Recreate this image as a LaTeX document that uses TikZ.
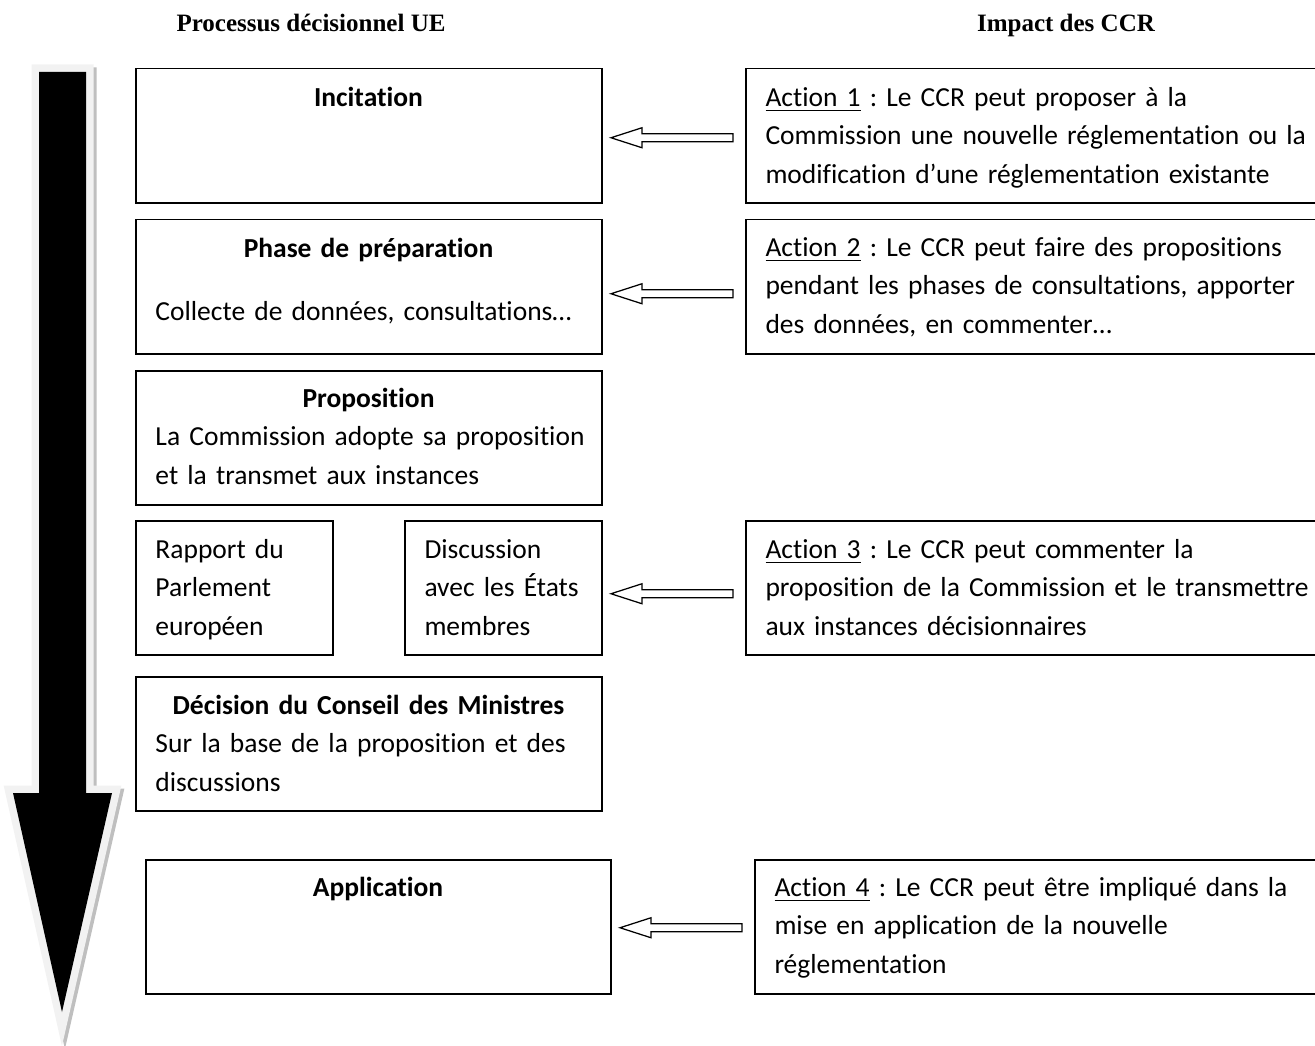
\documentclass[tikz,border=0pt]{standalone}
\usepackage{fontspec}
\setmainfont{Carlito}[Ligatures=NoCommon]
\newfontfamily\headfont{Liberation Serif}
\usetikzlibrary{calc}

\begin{document}
\begin{tikzpicture}[x=0.4pt,y=-0.4pt,
    stage/.style={draw, line width=0.6pt, anchor=north west, inner sep=0pt, minimum height=53.6pt},
    txt/.style={anchor=north west, inner sep=0pt, align=left, font=\fontsize{11}{15.4}\selectfont\frenchspacing, execute at begin node=\strut},
    hollow/.style={draw, line width=0.5pt, fill=white, line join=miter},
    heading/.style={anchor=base, inner sep=0pt, font=\headfont\fontsize{10}{12}\selectfont\bfseries}]
        \clip (0,0) rectangle (1315,1046);

        % Column headings
        \node[heading] (hleft) at (311,32) {Processus décisionnel UE};
        \node[heading] (hright) at (1066,32) {Impact des CCR};

        % Big time arrow (shadow, light rim, black body)
        \draw[gray!50, fill=gray!50, line width=6pt, shift={(3,3)}]
            (39,72) -- (86,72) -- (86,793) -- (112,793) -- (62,1012) -- (13,793) -- (39,793) -- cycle;
        \draw[gray!10, line width=6pt]
            (39,72) -- (86,72) -- (86,793) -- (112,793) -- (62,1012) -- (13,793) -- (39,793) -- cycle;
        \fill[black]
            (39,72) -- (86,72) -- (86,793) -- (112,793) -- (62,1012) -- (13,793) -- (39,793) -- cycle;

        % Decision process (left column)
        \node[stage, minimum width=186.4pt] (inc) at (135,68) {};
        \node[txt, text width=170.4pt] (inc-t) at ($(inc.north west)+(20,11)$)
            {{\centering\bfseries Incitation\par}};

        \node[stage, minimum width=186.4pt] (prep) at (135,219) {};
        \node[txt, text width=170.4pt] (prep-t) at ($(prep.north west)+(20,11)$)
            {{\centering\bfseries Phase de préparation\par}\vspace{9.8pt}
             Collecte de données, consultations…};

        \node[stage, minimum width=186.4pt] (prop) at (135,370) {};
        \node[txt, text width=170.4pt] (prop-t) at ($(prop.north west)+(20,10)$)
            {{\centering\bfseries Proposition\par}
             \makebox[0pt][l]{La Commission adopte sa proposition}\\
             et la transmet aux instances};

        \node[stage, minimum width=78.8pt] (rap) at (135,520) {};
        \node[txt, text width=70pt] (rap-t) at ($(rap.north west)+(20,11)$)
            {Rapport du\\ Parlement\\ européen};

        \node[stage, minimum width=78.8pt] (disc) at (404,520) {};
        \node[txt, text width=70pt] (disc-t) at ($(disc.north west)+(20,11)$)
            {Discussion\\ avec les États\\ membres};

        \node[stage, minimum width=186.4pt] (dec) at (135,676) {};
        \node[txt, text width=170.4pt] (dec-t) at ($(dec.north west)+(20,11)$)
            {{\centering\bfseries Décision du Conseil des Ministres\par}
             Sur la base de la proposition et des\\
             discussions};

        \node[stage, minimum width=186pt] (appl) at (145,859) {};
        \node[txt, text width=170pt] (appl-t) at ($(appl.north west)+(20,10)$)
            {{\centering\bfseries Application\par}};

        % Impact of the CCR (right column)
        \node[stage, minimum width=240pt] (act1) at (745,68) {};
        \node[txt, text width=240pt] (act1-t) at ($(act1.north west)+(20,11)$)
            {\underline{Action 1} : Le CCR peut proposer à la\\
             Commission une nouvelle réglementation ou la\\
             modification d’une réglementation existante};

        \node[stage, minimum width=240pt] (act2) at (745,219) {};
        \node[txt, text width=240pt] (act2-t) at ($(act2.north west)+(20,10)$)
            {\underline{Action 2} : Le CCR peut faire des propositions\\
             pendant les phases de consultations, apporter\\
             des données, en commenter…};

        \node[stage, minimum width=240pt] (act3) at (745,520) {};
        \node[txt, text width=240pt] (act3-t) at ($(act3.north west)+(20,11)$)
            {\underline{Action 3} : Le CCR peut commenter la\\
             proposition de la Commission et le transmettre\\
             aux instances décisionnaires};

        \node[stage, minimum width=240pt] (act4) at (754,859) {};
        \node[txt, text width=240pt] (act4-t) at ($(act4.north west)+(20,10)$)
            {\underline{Action 4} : Le CCR peut être impliqué dans la\\
             mise en application de la nouvelle\\
             réglementation};

        % Hollow arrows from the actions to the stages
        \foreach \act/\dy in {act1/2, act2/7, act3/6, act4/1} {
            \coordinate (\act-tail) at ($(\act.west)+(-12,\dy)$);
            \draw[hollow] ($(\act-tail)+(0,-4)$) -- ++(-91,0) -- ++(0,-6) -- ++(-31,10)
                -- ++(31,10) -- ++(0,-6) -- ++(91,0) -- cycle;
        }

    \end{tikzpicture}
\end{document}
